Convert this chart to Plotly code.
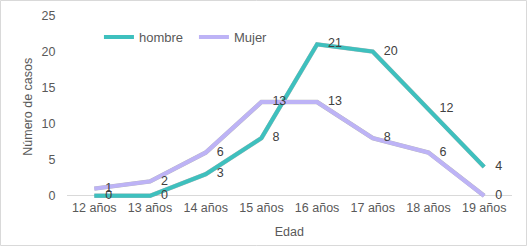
import plotly.graph_objects as go

categorias = ["12 años", "13 años", "14 años", "15 años", "16 años", "17 años", "18 años", "19 años"]
hombre = [0, 0, 3, 8, 21, 20, 12, 4]
mujer = [1, 2, 6, 13, 13, 8, 6, 0]

W, H = 527, 246
ML, MR, MT, MB = 64, 15, 13, 48
pw = W - ML - MR
ph = H - MT - MB
ex = 2.5 / pw
ey = 2.5 / ph

teal = "#3EC0BE"
lav = "#BDB3F6"
txt = "#595959"
font = "Liberation Sans, Arial, sans-serif"

fig = go.Figure()

# shadows (base axes, drawn below)
for vals in (mujer, hombre):
    fig.add_trace(go.Scatter(x=categorias, y=vals, mode="lines", xaxis="x", yaxis="y",
                             line=dict(color="rgba(0,0,0,0.28)", width=4.5),
                             showlegend=False, hoverinfo="skip"))

for name, vals, col in (("hombre", hombre, teal), ("Mujer", mujer, lav)):
    fig.add_trace(go.Scatter(x=categorias, y=vals, mode="lines", name=name,
                             xaxis="x2", yaxis="y2",
                             line=dict(color=col, width=4)))

for vals in (hombre, mujer):
    fig.add_trace(go.Scatter(x=categorias, y=vals, mode="markers+text",
                             xaxis="x2", yaxis="y2", showlegend=False, hoverinfo="skip",
                             marker=dict(size=16, opacity=0),
                             text=[str(v) for v in vals],
                             textposition="middle right", cliponaxis=False,
                             textfont=dict(size=12.5, color="#404040", family=font)))

yr = [-0.3, 25]
xr = [-0.5, 7.5]
fig.update_layout(
    width=W, height=H,
    margin=dict(l=ML, r=MR, t=MT, b=MB, autoexpand=False),
    paper_bgcolor="white", plot_bgcolor="rgba(0,0,0,0)",
    font=dict(family=font, size=12, color=txt),
    xaxis=dict(domain=[ex, 1], range=xr, visible=False, anchor="y", automargin=False),
    yaxis=dict(domain=[0, 1 - ey], range=yr, visible=False, anchor="x", automargin=False),
    xaxis2=dict(domain=[0, 1 - ex], range=xr, overlaying="x", anchor="y2",
                showgrid=False, showline=False, ticks="", automargin=False,
                tickfont=dict(size=12.5, color=txt),
                title=dict(text="Edad", font=dict(size=12.5, color=txt), standoff=13)),
    yaxis2=dict(domain=[ey, 1], range=yr, overlaying="y", anchor="x2",
                dtick=5, showgrid=False, zeroline=True, automargin=False,
                zerolinecolor="#D9D9D9", zerolinewidth=1, showline=False, ticks="",
                ticklabelstandoff=10,
                tickfont=dict(size=12.5, color=txt),
                title=dict(text="Número de casos", font=dict(size=12.5, color=txt), standoff=6)),
    legend=dict(orientation="h", x=0.078, y=0.87, xanchor="left", yanchor="middle",
                bgcolor="rgba(0,0,0,0)", font=dict(size=13, color=txt), itemwidth=30,
                entrywidth=50, tracegroupgap=0),
    showlegend=True,
    shapes=[dict(type="rect", xref="paper", yref="paper",
                 x0=(0.5 - ML) / pw, x1=(W - 0.5 - ML) / pw,
                 y0=-(H - 0.5 - MT - ph) / ph, y1=1 + (MT - 0.5) / ph,
                 line=dict(color="#D9D9D9", width=1), layer="below")],
)

fig.write_html("out.html", config={"displayModeBar": False},
               post_script="document.body.style.margin='0';")
